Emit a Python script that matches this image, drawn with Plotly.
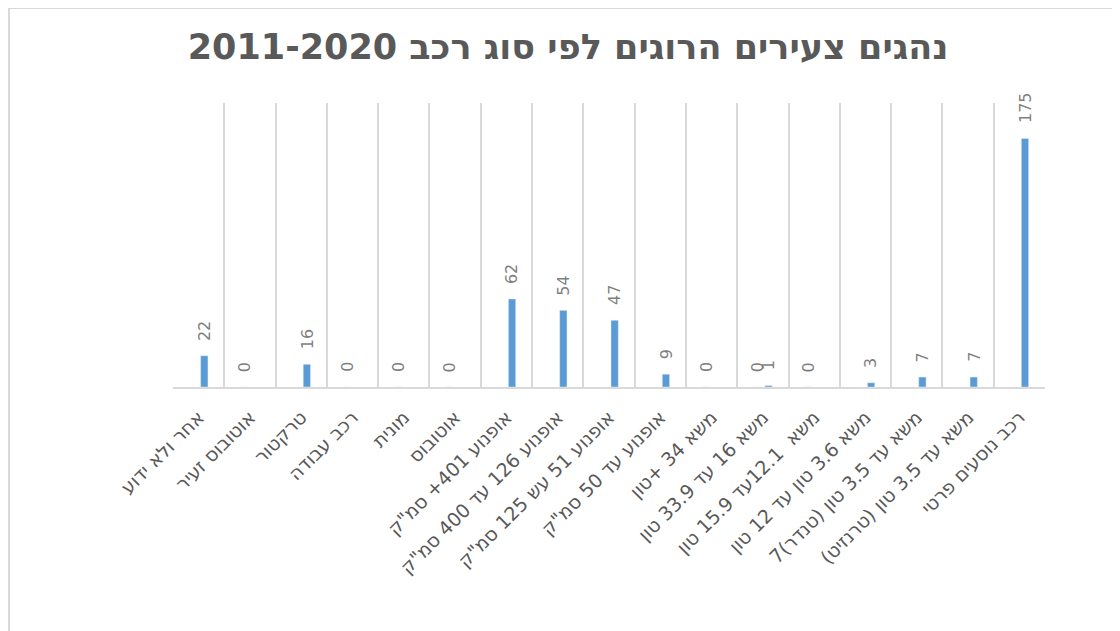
import plotly.graph_objects as go

categories = [
    "אחר ולא ידוע",
    "אוטובוס זעיר",
    "טרקטור",
    "רכב עבודה",
    "מונית",
    "אוטובוס",
    "אופנוע 401+ סמ\"ק",
    "אופנוע 126 עד 400 סמ\"ק",
    "אופנוע 51 עש 125 סמ\"ק",
    "אופנוע עד 50 סמ\"ק",
    "משא 34 +טון",
    "משא 16 עד 33.9 טון",
    "משא  12.1עד 15.9 טון",
    "משא 3.6 טון עד 12 טון",
    "משא עד 3.5 טון (טנדר)7",
    "משא עד 3.5 טון (טרנזיט)\u200f",
    "רכב נוסעים פרטי",
]
series_a = [None, 0, None, 0, 0, 0, None, None, None, None, 0, 0, 0, None, None, None, None]
series_b = [22, None, 16, None, None, None, 62, 54, 47, 9, None, 1, None, 3, 7, 7, 175]
title_text = "נהגים צעירים הרוגים לפי סוג רכב 2011-2020"

W, H = 1120, 631
ML, MR, MT, MB = 165, 83, 95, 252
PW, PH = W - ML - MR, H - MT - MB

def xp(px):
    return (px - ML) / PW

def yp(py):
    return (H - MB - py) / PH

BAR_COLOR = "#5b9bd5"
GRID = "#d9d9d9"
AXIS_TXT = "#595959"
LBL_TXT = "#7f7f7f"

fig = go.Figure()
fig.add_trace(go.Bar(x=categories, y=series_a, marker_color=BAR_COLOR, name="A",
                     hoverinfo="skip"))
fig.add_trace(go.Bar(x=categories, y=series_b, marker_color=BAR_COLOR, name="B",
                     hoverinfo="skip"))

annotations = []
for vals, shift in ((series_a, -5.7), (series_b, 5.7)):
    for c, v in zip(categories, vals):
        if v is None:
            continue
        annotations.append(dict(
            x=c, y=v, xref="x", yref="y", text=str(v), showarrow=False,
            textangle=-90, xanchor="center", yanchor="bottom",
            xshift=shift, yshift=13,
            font=dict(family="DejaVu Sans", size=16, color=LBL_TXT),
        ))

shapes = [
    dict(type="line", xref="paper", yref="paper", x0=xp(0), x1=xp(W), y0=yp(0), y1=yp(0),
         line=dict(color=GRID, width=2)),
    dict(type="line", xref="paper", yref="paper", x0=xp(1), x1=xp(1), y0=yp(0), y1=yp(H),
         line=dict(color=GRID, width=2)),
]

fig.update_layout(
    width=W, height=H,
    paper_bgcolor="white", plot_bgcolor="white",
    margin=dict(l=ML, r=MR, t=MT, b=MB),
    showlegend=False,
    barmode="group", bargap=0.56, bargroupgap=0.35,
    title=dict(text=title_text, x=0.5, xanchor="center", y=1 - 39 / H, yanchor="middle",
               xref="container", yref="container",
               font=dict(family="DejaVu Sans", size=35, color="#595959", weight="bold")),
    annotations=annotations,
    shapes=shapes,
)
fig.update_xaxes(
    type="category", tickson="boundaries", showgrid=True, gridcolor=GRID, gridwidth=1.5,
    showline=True, linecolor=GRID, linewidth=1.5, ticks="",
    tickangle=-45, tickfont=dict(family="DejaVu Sans", size=19, color=AXIS_TXT),
    ticklabelstandoff=10,
    automargin=False,
)
fig.update_yaxes(range=[0, 200], visible=False, showgrid=False, zeroline=False)

fig.write_html("out.html")
